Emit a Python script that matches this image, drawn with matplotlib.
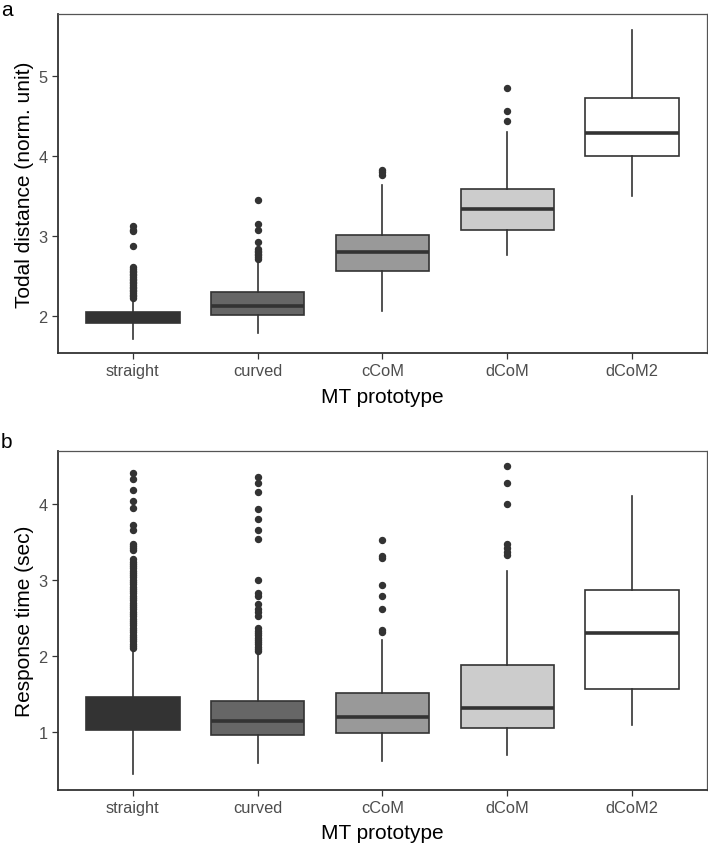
import numpy as np
import matplotlib
matplotlib.use("Agg")
from matplotlib import pyplot as plt

plt.rcParams["font.family"] = ["Liberation Sans", "DejaVu Sans"]

categories = ["straight", "curved", "cCoM", "dCoM", "dCoM2"]
fills = ["#333333", "#666666", "#999999", "#CCCCCC", "#FFFFFF"]

# panel a: total distance
dist_q1 = [1.91, 2.01, 2.56, 3.08, 4.00]
dist_med = [1.97, 2.13, 2.80, 3.34, 4.29]
dist_q3 = [2.05, 2.30, 3.01, 3.59, 4.73]
dist_lo = [1.72, 1.79, 2.07, 2.76, 3.50]
dist_hi = [2.21, 2.70, 3.64, 4.30, 5.58]
dist_fliers = [
    [2.23, 2.25, 2.27, 2.29, 2.31, 2.33, 2.35, 2.37, 2.39, 2.41, 2.43,
     2.45, 2.47, 2.49, 2.51, 2.53, 2.55, 2.57, 2.59, 2.61, 2.88, 3.06,
     3.08, 3.13],
    [2.72, 2.74, 2.76, 2.78, 2.80, 2.82, 2.84, 2.93, 3.075, 3.15, 3.45],
    [3.77, 3.80, 3.83],
    [4.44, 4.56, 4.85],
    [],
]

# panel b: response time
rt_q1 = [1.02, 0.965, 0.99, 1.05, 1.57]
rt_med = [1.20, 1.145, 1.19, 1.315, 2.30]
rt_q3 = [1.457, 1.40, 1.51, 1.88, 2.86]
rt_lo = [0.45, 0.59, 0.62, 0.69, 1.09]
rt_hi = [2.08, 2.04, 2.21, 3.11, 4.10]
rt_fliers = [
    [2.10, 2.13, 2.16, 2.19, 2.22, 2.25, 2.28, 2.31, 2.34, 2.37, 2.40,
     2.43, 2.46, 2.49, 2.52, 2.55, 2.58, 2.61, 2.64, 2.67, 2.70, 2.73,
     2.76, 2.79, 2.82, 2.85, 2.88, 2.91, 2.94, 2.97, 3.00, 3.03, 3.06,
     3.09, 3.12, 3.15, 3.18, 3.21, 3.24, 3.27, 3.39, 3.42, 3.45, 3.47,
     3.65, 3.72, 3.95, 4.03, 4.18, 4.33, 4.41],
    [2.06, 2.09, 2.12, 2.15, 2.18, 2.21, 2.24, 2.27, 2.30, 2.33, 2.36,
     2.53, 2.58, 2.62, 2.68, 2.79, 2.82, 3.00, 3.53, 3.66, 3.80, 3.93,
     4.16, 4.27, 4.35],
    [2.31, 2.34, 2.61, 2.78, 2.93, 3.28, 3.31, 3.52],
    [3.32, 3.36, 3.42, 3.47, 3.99, 4.27, 4.50],
    [],
]


def make_stats(q1, med, q3, lo, hi, fliers):
    stats = []
    for i in range(len(q1)):
        stats.append(dict(q1=q1[i], med=med[i], q3=q3[i], whislo=lo[i],
                          whishi=hi[i], fliers=np.array(fliers[i])))
    return stats


def draw_panel(ax, stats, ylabel, ylim, yticks):
    bp = ax.bxp(stats, positions=range(1, 6), widths=0.75,
                patch_artist=True, showcaps=False,
                boxprops=dict(edgecolor="#333333", linewidth=1.2),
                whiskerprops=dict(color="#333333", linewidth=1.2),
                medianprops=dict(color="#333333", linewidth=2.6,
                                 solid_capstyle="butt"),
                flierprops=dict(marker="o", markerfacecolor="#333333",
                                markeredgecolor="#333333", markersize=4.3))
    for patch, col in zip(bp["boxes"], fills):
        patch.set_facecolor(col)
    ax.set_xlim(0.4, 5.6)
    ax.set_ylim(*ylim)
    ax.set_yticks(yticks)
    ax.set_xticks(range(1, 6))
    ax.set_xticklabels(categories)
    ax.tick_params(direction="out", length=4, width=0.9, color="#333333",
                   labelsize=11.8, labelcolor="#4D4D4D", pad=3.5)
    for side in ["left", "bottom"]:
        ax.spines[side].set_color("#333333")
        ax.spines[side].set_linewidth(1.3)
    for side in ["top", "right"]:
        ax.spines[side].set_color("#555555")
        ax.spines[side].set_linewidth(0.9)
    ax.set_xlabel("MT prototype", fontsize=15, labelpad=6)
    ax.set_ylabel(ylabel, fontsize=15, labelpad=3)


fig = plt.figure(figsize=(7.08, 8.45), dpi=100)
ax_a = fig.add_axes([0.0819, 0.581, 0.9167, 0.401])
ax_b = fig.add_axes([0.0819, 0.0643, 0.9167, 0.4005])

draw_panel(ax_a, make_stats(dist_q1, dist_med, dist_q3, dist_lo, dist_hi,
                            dist_fliers),
           "Todal distance (norm. unit)", (1.54, 5.775), [2, 3, 4, 5])
draw_panel(ax_b, make_stats(rt_q1, rt_med, rt_q3, rt_lo, rt_hi, rt_fliers),
           "Response time (sec)", (0.24, 4.69), [1, 2, 3, 4])

fig.text(0.001, 0.999, "a", fontsize=15, va="top", ha="left")
fig.text(0.001, 0.487, "b", fontsize=15, va="top", ha="left")

fig.savefig("out.png", dpi=100)
